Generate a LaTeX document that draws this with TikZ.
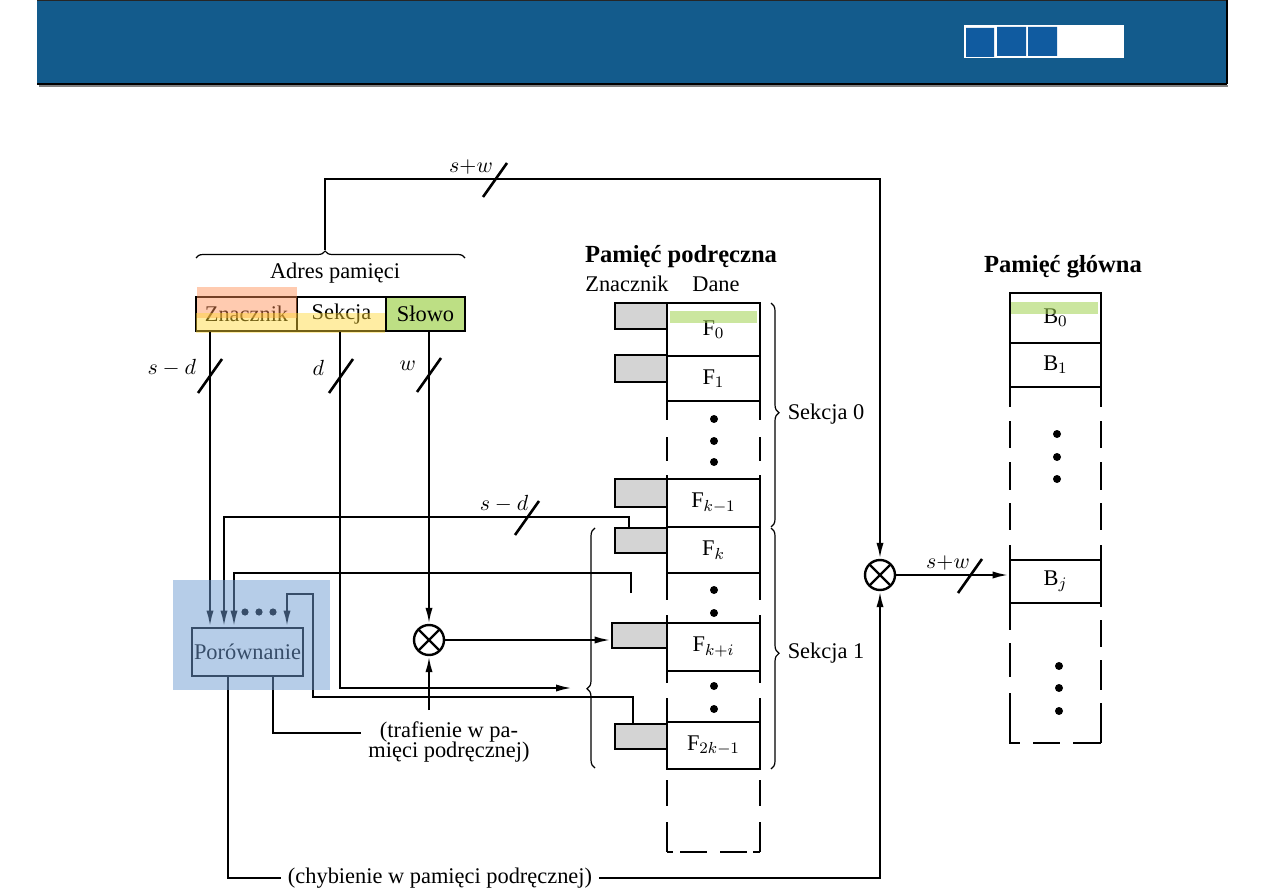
\documentclass[tikz,border=0pt]{standalone}
\usepackage{fontspec}
\setmainfont{Liberation Serif}
\usetikzlibrary{arrows.meta,decorations.pathreplacing,calc}

\definecolor{barblue}{RGB}{19,91,140}
\definecolor{sqblue}{RGB}{16,91,160}
\definecolor{hlorange}{RGB}{255,140,80}
\definecolor{hlyellow}{RGB}{255,215,50}
\definecolor{hlgreen}{RGB}{160,210,80}
\definecolor{hlblue}{RGB}{110,155,210}
\definecolor{tagfill}{RGB}{212,212,212}

\tikzset{
  conn/.style={line width=1.1pt},
  arr/.style={conn,-{Latex[length=8pt,width=3.6pt]}},
  cell/.style={draw,line width=1.4pt,inner sep=0pt,minimum width=46.5pt},
  tag/.style={draw,line width=1.4pt,fill=tagfill,inner sep=0pt,minimum width=26pt},
  field/.style={draw,line width=1.3pt,inner sep=0pt,minimum height=17pt},
  mult/.style={circle,draw,line width=1.2pt,minimum size=15pt,inner sep=0pt,
    path picture={\draw[line width=1.2pt]
      (path picture bounding box.north west) -- (path picture bounding box.south east)
      (path picture bounding box.north east) -- (path picture bounding box.south west);}},
  brc/.style={decorate,line width=0.6pt},
  side/.style={line width=1.4pt},
  head/.style={font=\fontsize{12.3}{14}\selectfont\bfseries},
  bus/.pic={\draw[line width=1.3pt] (-12,17) -- (12,-17);},
}

\begin{document}
\begin{tikzpicture}[x=0.5pt,y=-0.5pt,font=\fontsize{11.2}{13.5}\selectfont]
  \useasboundingbox (0,0) rectangle (1263,893);

  % title bar
  \fill[barblue] (37,0) rectangle (1227,84);
  \draw[black!85,line width=0.6pt] (37,0.5) -- (1227,0.5);
  \draw[black,line width=0.8pt] (37,84) -- (1227,84) (1227,0) -- (1227,84);
  \draw[gray,line width=0.8pt] (39,86) -- (1228,86);
  \fill[white] (964,25) rectangle (1124,58);
  \fill[sqblue] (966,28) rectangle (994,57) (997,27) rectangle (1026,56) (1028,27) rectangle (1057,56);

  % memory address
  \node (adr) at (335,273) {Adres pamięci};
  \node[field,minimum width=50.5pt] (zn) at (246.5,314) {Znacznik};
  \node[field,minimum width=44.5pt] (sk) at (341.5,314) {Sekcja};
  \node[field,minimum width=39.5pt,fill=hlgreen!70] (sl) at (425.5,314) {Słowo};
  \fill[hlorange,opacity=.45] (197,287) rectangle (297,318);
  \fill[hlyellow,opacity=.45] (196,313) rectangle (385,333);
  \draw[brc,decoration={brace,amplitude=3.5pt,aspect=0.48}] (196,258) -- (465,258);
  \coordinate (adrtip) at (325,250);

  % cache memory
  \node[head] (cachehd) at (681,257) {Pamięć podręczna};
  \node (cznl) at (627,284) {Znacznik};
  \node (cdane) at (716,284) {Dane};
  \node[tag,minimum height=13pt] (t0) at (641,316) {};
  \node[tag,minimum height=13.5pt] (t1) at (641,368.5) {};
  \node[tag,minimum height=14pt] (tk1) at (641,493) {};
  \node[tag,minimum height=12.5pt] (tk) at (641,540.5) {};
  \node[tag,minimum height=12.5pt,minimum width=27.5pt] (tki) at (639.5,635.5) {};
  \node[tag,minimum height=12.5pt] (t2k) at (641,736.5) {};
  \node[cell,minimum height=26.5pt] (f0) at (713.5,329.5) {F$_0$};
  \node[cell,minimum height=22.5pt] (f1) at (713.5,378.5) {F$_1$};
  \node[cell,minimum height=24pt] (fk1) at (713.5,503) {F$_{k-1}$};
  \node[cell,minimum height=23pt] (fk) at (713.5,550) {F$_k$};
  \node[cell,minimum height=24pt] (fki) at (713.5,647) {F$_{k+i}$};
  \node[cell,minimum height=23.5pt] (f2k) at (713.5,745.5) {F$_{2k-1}$};
  \foreach \a/\b in {401/420,437/461,475/479,573/600,615/623,671/683,698/722,780/806,822/852}
    \draw[side] (667,\a) -- (667,\b) (760,\a) -- (760,\b);
  \draw[side] (667,852) -- (673,852) (680,852) -- (707,852) (720,852) -- (747,852) (753,852) -- (760,852);
  \foreach \y in {419,441,462,590,613,686,709}
    \fill (714,\y) circle (2pt);
  \fill[hlgreen,opacity=.55] (670,311) rectangle (757,323);
  \draw[brc,decoration={brace,amplitude=4pt,aspect=0.49}] (771,303) -- (771,527);
  \node (s0) at (826,414) {Sekcja 0};
  \draw[brc,decoration={brace,amplitude=4pt,aspect=0.52}] (771,528) -- (771,769);
  \node (s1) at (826,653) {Sekcja 1};
  \draw[brc,decoration={brace,amplitude=4pt,aspect=0.33}] (595,768) -- (595,528);

  % main memory
  \node[head] (mainhd) at (1063,267) {Pamięć główna};
  \node[cell,minimum width=45.5pt,minimum height=25pt] (b0) at (1055.5,318) {B$_0$};
  \node[cell,minimum width=45.5pt,minimum height=22pt] (b1) at (1055.5,365) {B$_1$};
  \node[cell,minimum width=45.5pt,minimum height=21.5pt] (bj) at (1055.5,581.5) {B$_j$};
  \foreach \a/\b in {387/407,421/448,462/490,503/530,545/560}
    \draw[side] (1010,\a) -- (1010,\b) (1101,\a) -- (1101,\b);
  \foreach \a/\b in {603/630,643/677,693/743}
    \draw[side] (1010,\a) -- (1010,\b);
  \foreach \a/\b in {603/607,620/647,660/690,703/743}
    \draw[side] (1101,\a) -- (1101,\b);
  \draw[side] (1009,743) -- (1020,743) (1033,743) -- (1060,743) (1073,743) -- (1101,743);
  \foreach \y in {434,457,479}
    \fill (1057,\y) circle (2pt);
  \foreach \y in {666,688,711}
    \fill (1059,\y) circle (2pt);
  \fill[hlgreen,opacity=.55] (1011,302) rectangle (1098,314);

  % comparator and multiplexers
  \node[draw,line width=1.4pt,minimum width=55.5pt,minimum height=24pt,inner sep=0pt] (por) at (247.5,652) {Porównanie};
  \node[mult] (mulw) at (429,640) {};
  \node[mult] (mulg) at (880,575) {};
  \node[align=center,font=\fontsize{11.2}{10.2}\selectfont] (traf) at (449,742) {(trafienie w pa-\\mięci podręcznej)};
  \node (chyb) at (440,878) {(chybienie w pamięci podręcznej)};

  % address bus to main memory
  \coordinate (topc) at (880,179);
  \draw[arr] (adrtip) |- (topc) -- (mulg.north);
  \path (495,180) pic {bus};
  \node at (471,167) {$s{+}w$};

  % fields down
  \coordinate (xz) at (210,0);
  \coordinate (xs) at (340,0);
  \coordinate (selin) at (572,688);
  \draw[arr] (zn.south -| xz) -- (por.north -| xz);
  \draw[arr] (sk.south -| xs) |- (selin);
  \draw[arr] (sl.south -| mulw) -- (mulw.north);
  \path (210,376) pic {bus} (341,376) pic {bus} (429,375) pic {bus};
  \node[left] at (203,368) {$s-d$};
  \node[left] at (331,368) {$d$};
  \node[left] at (423,366) {$w$};

  % tags back to comparator
  \coordinate (ka) at (629,517);
  \coordinate (xa) at (224,0);
  \draw[arr] (tk.north -| ka) -- (ka) -| (por.north -| xa);
  \path (527,518) pic {bus};
  \node at (504,504) {$s-d$};
  \coordinate (kbend) at (631,593);
  \coordinate (kb) at (631,573);
  \coordinate (xb) at (234,0);
  \draw[arr] (kbend) -- (kb) -| (por.north -| xb);
  \coordinate (kc) at (633,697);
  \coordinate (kd) at (313,594);
  \coordinate (xc) at (287,0);
  \draw[arr] (t2k.north -| kc) -- (kc) -| (kd) -| (por.north -| xc);
  \foreach \x in {245,259,273}
    \fill (\x,612) circle (1.8pt);

  % hit / miss
  \draw[arr] (mulw.east) -- (mulw.east -| tki.west);
  \coordinate (xh) at (273,0);
  \coordinate (hitup) at (429,710);
  \draw[conn] (por.south -| xh) |- ([yshift=4.5pt]traf.west);
  \draw[arr] (hitup) -- (mulw.south);
  \coordinate (xm) at (228,0);
  \draw[conn] (por.south -| xm) |- (chyb.west);
  \draw[arr] (chyb.east) -| (mulg.south);
  \draw[arr] (mulg.east) -- (mulg.east -| bj.west);
  \path (970,576) pic {bus};
  \node at (948,563) {$s{+}w$};

  % highlight
  \fill[hlblue,opacity=.5] (173,580) rectangle (330,690);
\end{tikzpicture}
\end{document}
